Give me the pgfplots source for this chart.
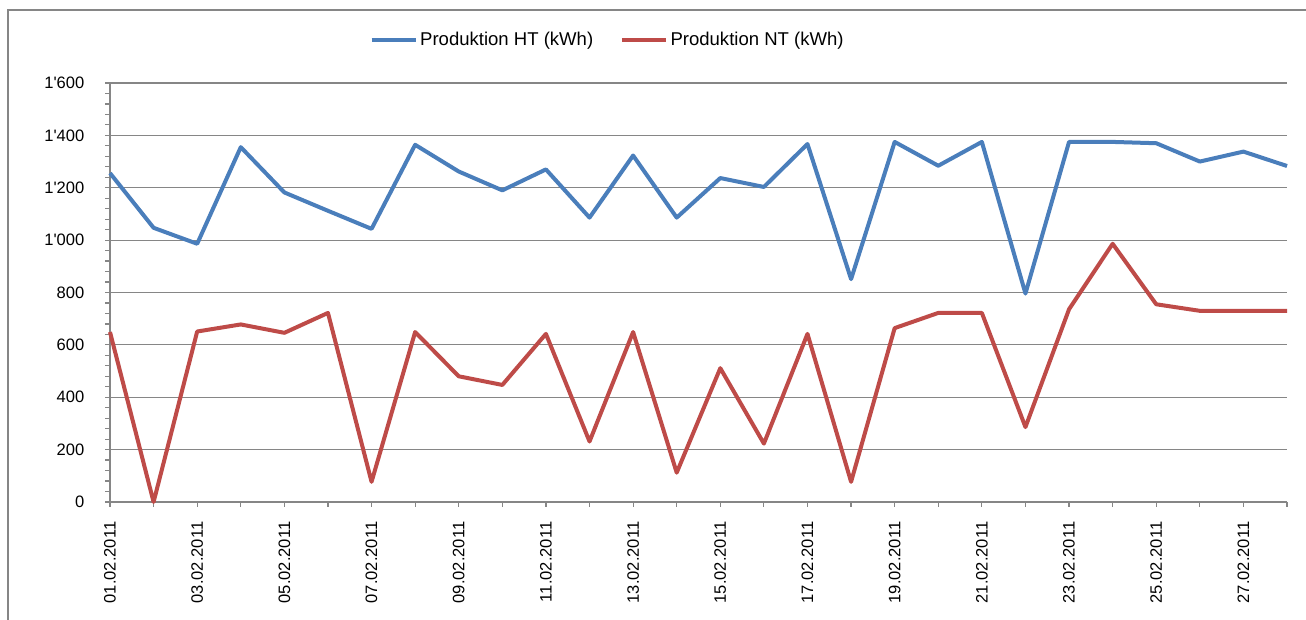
\documentclass[border=0pt]{standalone}
\usepackage{fontspec}
\setmainfont{Liberation Sans}
\usepackage{pgfplots}
\pgfplotsset{compat=1.18}
\definecolor{htblue}{RGB}{74,126,187}
\definecolor{ntred}{RGB}{190,75,72}
\definecolor{axgray}{RGB}{134,134,134}

\begin{document}
\begin{tikzpicture}
\path[use as bounding box] (0pt,0pt) rectangle (979.5pt,465pt);
\draw[axgray, line width=1.1pt] (6pt,-5pt) -- (6pt,457.5pt) -- (990pt,457.5pt);
\begin{axis}[at={(82.5pt,88.5pt)}, anchor=south west, scale only axis,
  width=882.75pt, height=314.25pt,
  xmin=1, xmax=28, ymin=0, ymax=1600, clip=false,
  axis lines*=left,
  axis line style={axgray, line width=1.1pt},
  tick align=outside,
  major tick length=3.75pt, minor tick length=3.75pt,
  tick style={axgray, line width=0.9pt},
  xtick={1,...,28},
  xticklabels={01.02.2011,,03.02.2011,,05.02.2011,,07.02.2011,,09.02.2011,,
    11.02.2011,,13.02.2011,,15.02.2011,,17.02.2011,,19.02.2011,,21.02.2011,,
    23.02.2011,,25.02.2011,,27.02.2011,},
  xticklabel style={rotate=90, anchor=east, xshift=-7.5pt,
    font=\fontsize{12.4}{14}\selectfont},
  ytick={0,200,...,1600}, minor y tick num=4,
  scaled y ticks=false,
  yticklabel style={font=\fontsize{12.4}{14}\selectfont, xshift=-12pt,
    /pgf/number format/1000 sep={\textquotesingle}},
  /pgf/number format/assume math mode=true,
  ymajorgrids, major grid style={axgray, line width=0.9pt},
  legend style={at={(0.423,1.1026)}, anchor=center, draw=none,
    font=\fontsize{13.9}{16}\selectfont,
    /tikz/every even column/.append style={column sep=18pt}},
  legend columns=2,
  legend image code/.code={\draw[#1] (0pt,0pt) -- (33pt,0pt);},
  every axis plot/.append style={line width=3pt, line join=round, mark=none},
]
\addplot[htblue] coordinates {(1,1256) (2,1047) (3,986) (4,1355) (5,1182)
  (6,1112) (7,1043) (8,1364) (9,1262) (10,1190) (11,1270) (12,1086)
  (13,1323) (14,1086) (15,1237) (16,1203) (17,1367) (18,851) (19,1375)
  (20,1284) (21,1375) (22,796) (23,1375) (24,1375) (25,1370) (26,1300)
  (27,1338) (28,1283)};
\addlegendentry{Produktion HT (kWh)}
\addplot[ntred] coordinates {(1,649) (2,0) (3,651) (4,678) (5,646) (6,722)
  (7,77) (8,649) (9,480) (10,447) (11,642) (12,231) (13,649) (14,112)
  (15,511) (16,223) (17,642) (18,77) (19,664) (20,722) (21,722) (22,286)
  (23,736) (24,986) (25,755) (26,730) (27,730) (28,730)};
\addlegendentry{Produktion NT (kWh)}
\end{axis}
\end{tikzpicture}
\end{document}
